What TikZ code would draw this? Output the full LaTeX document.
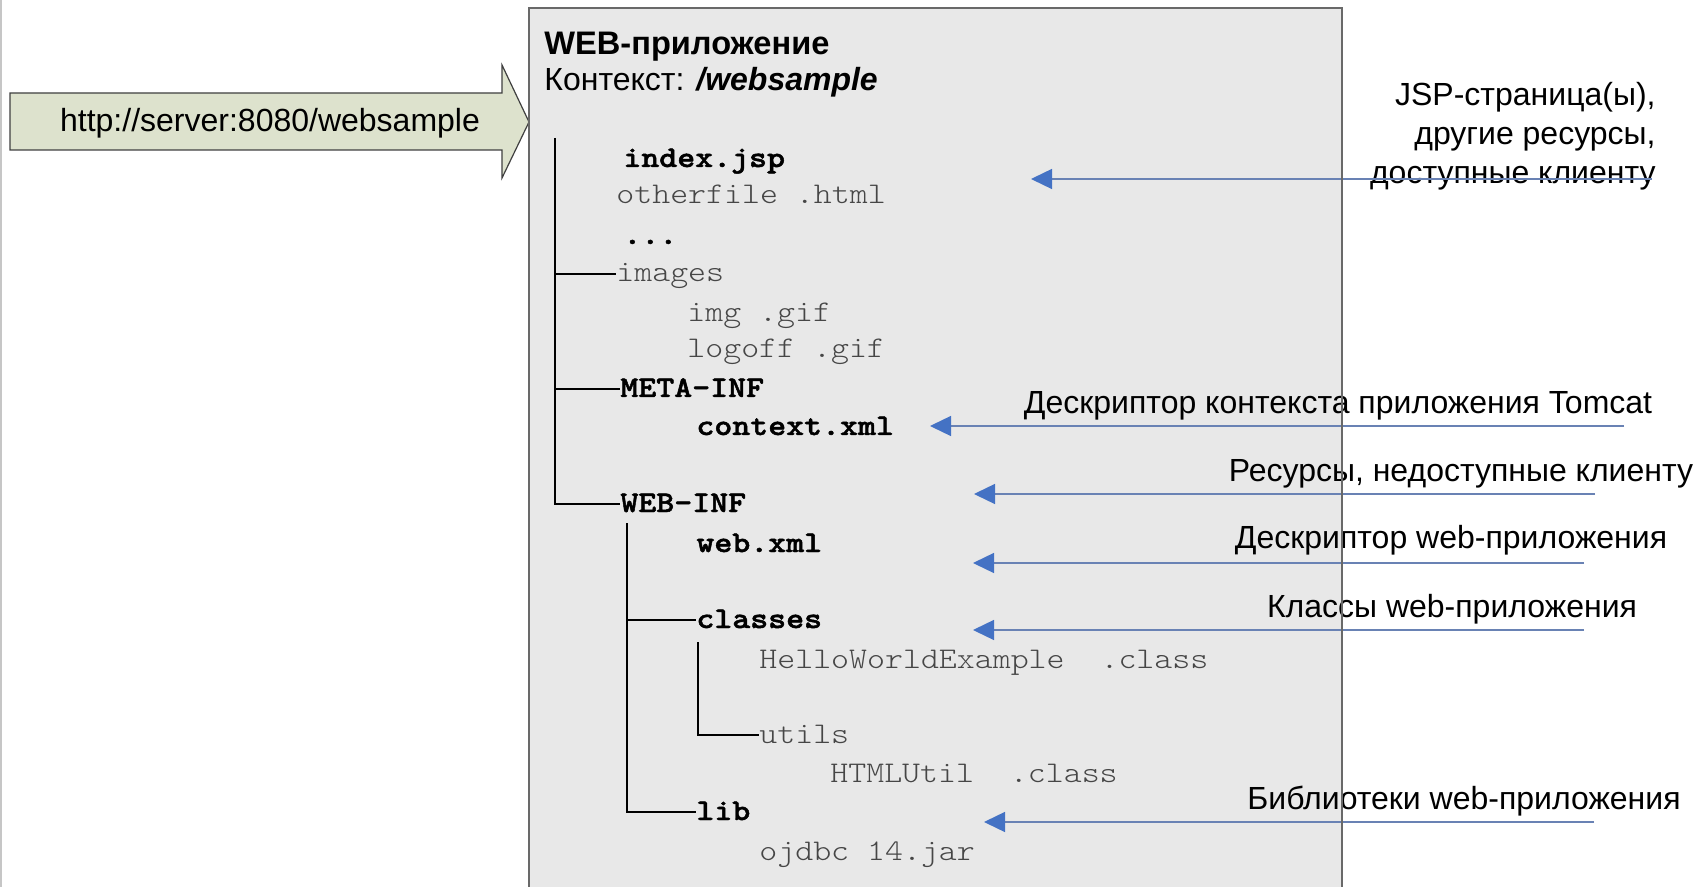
\documentclass[tikz,border=0pt]{standalone}
\usepackage{fontspec}
\setmainfont{Liberation Sans}
\newfontfamily\treefont[Extension=.otf, FakeStretch=1.14]{lmmonolt10-regular}
\newfontfamily\treebold[Extension=.otf, FakeStretch=1.14, FakeBold=1.6]{lmmonolt10-bold}
\usetikzlibrary{arrows.meta}
\definecolor{boxfill}{RGB}{232,232,232}
\definecolor{boxline}{RGB}{105,105,105}
\definecolor{urlfill}{RGB}{221,226,205}
\definecolor{tipblue}{RGB}{68,114,196}
\definecolor{lineblue}{RGB}{105,130,180}
\definecolor{filegray}{RGB}{70,70,70}

\begin{document}
\begin{tikzpicture}[x=0.5pt,y=-0.5pt,
  file/.style={anchor=base west,inner sep=0pt,text height=11pt,text depth=3pt,
    font=\treefont\fontsize{15}{18}\selectfont,text=filegray},
  dir/.style={file,font=\treebold\fontsize{15}{18}\selectfont,text=black},
  tree/.style={line width=1pt},
  note/.style={anchor=base,inner sep=0pt,font=\fontsize{16}{19.5}\selectfont},
  callout/.style={draw=lineblue,line width=0.7pt,
    -{Triangle[length=10.5pt,width=10pt,color=tipblue]}}]
\path[use as bounding box,fill=white] (0,0) rectangle (1697,887);
\draw[gray!45,line width=1pt] (1,0) -- (1,887);
% the web application box
\fill[boxfill] (529,8) rectangle (1342,887);
% request url
\draw[fill=urlfill,draw=black!75,line width=0.6pt] (10,93) -- (502,93) -- (502,65) -- (529,122)
  -- (502,178) -- (502,150) -- (10,150) -- cycle;
\node[anchor=base,inner sep=0pt,font=\fontsize{16}{19}\selectfont] (url) at (270,132) {http://server:8080/websample};

\node[anchor=base west,inner sep=0pt,font=\bfseries\fontsize{16.3}{18}\selectfont] (title) at (544,55) {WEB-приложение};
\node[anchor=base west,inner sep=0pt,font=\fontsize{16}{18}\selectfont] (ctx) at (544,91) {Контекст: \textbf{\textit{/websample}}};

% files and folders
\node[dir]  (idx)      at (623,167) {index.jsp};
\node[file] (other)    at (616,204) {otherfile .html};
\node[dir]  (dots)     at (623,244) {...};
\node[file] (images)   at (616,282) {images};
\node[file] (img)      at (687,322) {img .gif};
\node[file] (logoff)   at (687,358) {logoff .gif};
\node[dir]  (metainf)  at (620,397) {META-INF};
\node[dir]  (context)  at (696,435) {context.xml};
\node[dir]  (webinf)   at (620,512) {WEB-INF};
\node[dir]  (webxml)   at (696,552) {web.xml};
\node[dir]  (classes)  at (696,628) {classes};
\node[file] (hello)    at (759,668) {HelloWorldExample\ \ .class};
\node[file] (utils)    at (759,743) {utils};
\node[file] (htmlutil) at (830,782) {HTMLUtil\ \ .class};
\node[dir]  (lib)      at (696,820) {lib};
\node[file] (ojdbc)    at (759,860) {ojdbc 14.jar};

% tree lines
\coordinate (root) at (555,138);
\coordinate (webroot) at (627,523);
\coordinate (clsroot) at (698,642);
\draw[tree] (root) |- (webinf.west);
\draw[tree] (root |- images.west) -- (images.west);
\draw[tree] (root |- metainf.west) -- (metainf.west);
\draw[tree] (webroot) |- (lib.west);
\draw[tree] (webroot |- classes.west) -- (classes.west);
\draw[tree] (clsroot) |- (utils.west);

% comments on the right
\node[note,anchor=north east,align=right] (jsp) at (1656,82) {JSP-страница(ы),\\другие ресурсы,\\доступные клиенту};
\node[note] (tomcat) at (1338,414) {Дескриптор контекста приложения Tomcat};
\node[note] (hidden) at (1461,481) {Ресурсы, недоступные клиенту};
\node[note] (wdesc)  at (1451,548) {Дескриптор web-приложения};
\node[note] (wcls)   at (1452,617) {Классы web-приложения};
\node[note] (wlib)   at (1464,809) {Библиотеки web-приложения};

\coordinate (jsptail) at (1652,179);   \coordinate (jsptip) at (1031,179);
\coordinate (tomtail) at (1624,426);   \coordinate (tomtip) at (930,426);
\coordinate (hidtail) at (1595,494);   \coordinate (hidtip) at (974,494);
\coordinate (wdtail)  at (1584,563);   \coordinate (wdtip)  at (973,563);
\coordinate (wctail)  at (1584,630);   \coordinate (wctip)  at (973,630);
\coordinate (wltail)  at (1594,822);   \coordinate (wltip)  at (984,822);
\draw[callout] (jsptail) -- (jsptip);
\draw[callout] (tomtail) -- (tomtip);
\draw[callout] (hidtail) -- (hidtip);
\draw[callout] (wdtail) -- (wdtip);
\draw[callout] (wctail) -- (wctip);
\draw[callout] (wltail) -- (wltip);

\draw[boxline,line width=0.6pt] (529,887) -- (529,8) -- (1342,8) -- (1342,887);
\end{tikzpicture}
\end{document}
